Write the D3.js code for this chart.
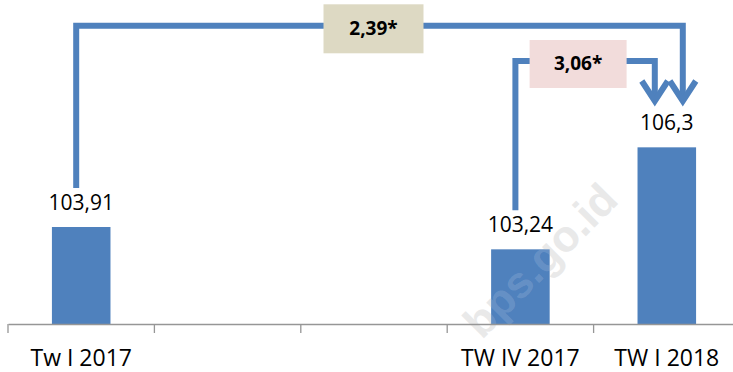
<!DOCTYPE html>
<html>
<head>
<meta charset="utf-8">
<script src="https://cdn.jsdelivr.net/npm/d3@7"></script>
<style>
  html, body { margin: 0; padding: 0; background: #fff; }
  svg { display: block; }
</style>
</head>
<body>
<svg id="chart" width="733" height="372"></svg>
<script>
// ---- data ----
const categories = ["Tw I 2017", "", "", "TW IV 2017", "TW I 2018"];
const values = [103.91, null, null, 103.24, 106.3];
const valueLabels = ["103,91", "", "", "103,24", "106,3"];
const changeFrom = [0, 3];
const changeTo = [4, 4];
const changeLabels = ["2,39*", "3,06*"];

// ---- layout ----
const W = 733, H = 372;
const svg = d3.select("#chart");
const baseY = 324;
const blue = "#4F81BD";

const x = d3.scaleBand().domain(d3.range(categories.length)).range([8, 740])
  .paddingInner(0.6).paddingOuter(0.3);
const xAxisScale = d3.scaleBand().domain(d3.range(categories.length)).range([8, 740]).padding(0);
const y = d3.scaleLinear().domain([101, 107]).range([baseY, baseY - 200]);

const cx = i => x(i) + x.bandwidth() / 2;

// watermark (behind)
svg.append("text")
  .attr("transform", "translate(620,202) rotate(-45)")
  .attr("text-anchor", "end")
  .attr("font-family", "'Liberation Sans', Arial, sans-serif")
  .attr("font-weight", "bold")
  .attr("font-size", 44)
  .attr("fill", "#e6e6e6")
  .text("bps.go.id");

// bars
const barData = values.map((v, i) => ({ i, v })).filter(d => d.v != null);
svg.append("g").selectAll("rect").data(barData).join("rect")
  .attr("x", d => x(d.i))
  .attr("width", x.bandwidth())
  .attr("y", d => y(d.v))
  .attr("height", d => baseY - y(d.v))
  .attr("fill", blue);

// watermark overlay on bars
svg.append("text")
  .attr("transform", "translate(620,202) rotate(-45)")
  .attr("text-anchor", "end")
  .attr("font-family", "'Liberation Sans', Arial, sans-serif")
  .attr("font-weight", "bold")
  .attr("font-size", 44)
  .attr("fill", "#ffffff")
  .attr("fill-opacity", 0.15)
  .text("bps.go.id");

// axis
const axis = d3.axisBottom(xAxisScale).tickSize(0).tickSizeOuter(0).tickFormat(i => categories[i]);
const gAxis = svg.append("g").attr("transform", `translate(0,${baseY})`).call(axis);
gAxis.select(".domain").attr("stroke", "#969696").attr("stroke-width", 1.3);
gAxis.selectAll(".tick text")
  .attr("y", 41.5).attr("dy", 0)
  .attr("font-family", "'Open Sans', sans-serif")
  .attr("font-size", 23)
  .attr("fill", "#000");
// boundary tick marks
const bounds = d3.range(categories.length + 1).map(i => i < categories.length ? xAxisScale(i) : xAxisScale.range()[1]);
gAxis.append("g").selectAll("line").data(bounds).join("line")
  .attr("x1", d => d).attr("x2", d => d)
  .attr("y1", 0).attr("y2", 9)
  .attr("stroke", "#969696").attr("stroke-width", 1.3);

// value labels
svg.append("g").selectAll("text").data(barData).join("text")
  .attr("x", d => cx(d.i))
  .attr("y", d => y(d.v) - 17)
  .attr("text-anchor", "middle")
  .attr("font-family", "'Open Sans', sans-serif")
  .attr("font-size", 21)
  .attr("fill", "#000")
  .text(d => valueLabels[d.i]);

// connectors
const levels = [25.8, 61];
const endOffsets = [16, -12];
const boxFill = ["#DDD9C3", "#F2DCDB"];
const boxW = [100, 97], boxH = [49, 48], boxShift = [-6, -7];
const tipY = 101;
const gConn = svg.append("g");
changeFrom.forEach((f, k) => {
  const x0 = cx(f) - 5;
  const y0 = y(values[f]) - 39;
  const x1 = cx(changeTo[k]) + endOffsets[k];
  const lvl = levels[k];
  gConn.append("path")
    .attr("d", d3.line()([[x0, y0], [x0, lvl], [x1, lvl], [x1, tipY]]))
    .attr("fill", "none").attr("stroke", blue).attr("stroke-width", 6)
    .attr("stroke-linejoin", "miter");
  gConn.append("path")
    .attr("d", d3.line()([[x1 - 13, tipY - 20], [x1, tipY], [x1 + 13, tipY - 20]]))
    .attr("fill", "none").attr("stroke", blue).attr("stroke-width", 6)
    .attr("stroke-linejoin", "miter");
  const bx = (x0 + x1) / 2 + boxShift[k];
  gConn.append("rect")
    .attr("x", bx - boxW[k] / 2).attr("y", lvl - boxH[k] / 2 + 3)
    .attr("width", boxW[k]).attr("height", boxH[k])
    .attr("fill", boxFill[k]);
  gConn.append("text")
    .attr("x", bx).attr("y", lvl + 9)
    .attr("text-anchor", "middle")
    .attr("font-family", "'Open Sans', sans-serif")
    .attr("font-weight", "bold")
    .attr("font-size", 19)
    .attr("fill", "#000")
    .text(changeLabels[k]);
});
</script>
</body>
</html>
